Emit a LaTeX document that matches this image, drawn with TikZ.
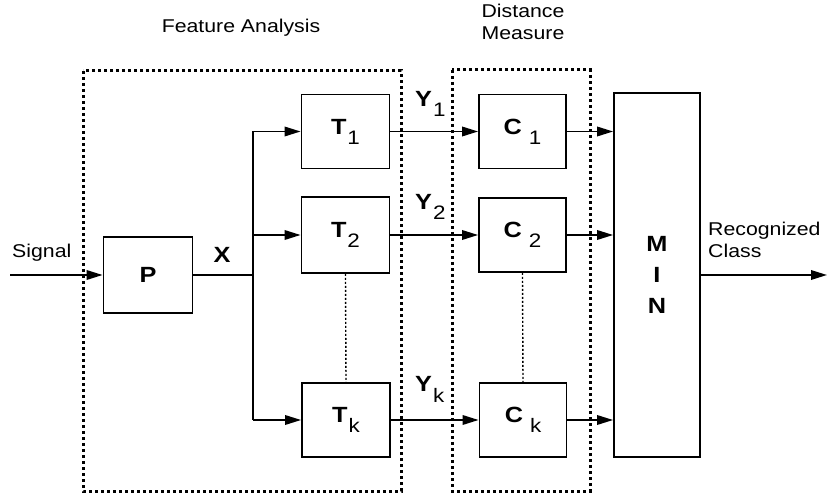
\documentclass[tikz,border=0pt]{standalone}
\usepackage{fontspec}
\setmainfont[FakeStretch=1.15]{Liberation Sans}
\usetikzlibrary{arrows.meta}
\newcommand\subl[3]{#1\kern#3\raisebox{-10pt}{\fontsize{19.5}{22}\selectfont\mdseries #2}}
\begin{document}
\begin{tikzpicture}[x=1pt,y=-1pt,
  blk/.style={draw, line width=1.8pt, minimum width=88pt, minimum height=74pt, inner sep=0pt,
    font=\fontsize{22}{24}\selectfont\bfseries},
  lab/.style={inner sep=0pt, font=\fontsize{18.5}{22}\selectfont},
  blab/.style={inner sep=0pt, font=\fontsize{22}{24}\selectfont\bfseries},
  frame/.style={line width=3pt, dash pattern=on 3pt off 3pt},
  ln/.style={line width=1.8pt},
  arr/.style={line width=1.8pt, -{Triangle[length=16pt,width=9.5pt]}},
  dotln/.style={line width=1.4pt, dash pattern=on 2pt off 2pt}]
\useasboundingbox (0,0) rectangle (828,494);
% frames
\draw[frame] (83,71) rectangle (401,491);
\draw[frame] (452,70) rectangle (590,491);
\node[lab, anchor=base] (fa) at (241,33) {Feature Analysis};
\node[lab, align=center, anchor=north] (dm) at (523,4) {Distance\\Measure};
% blocks
\node[blk, minimum width=89pt, minimum height=76pt] (P) at (148,275) {P};
\node[blk] (T1) at (345.5,131.5) {\subl{T}{1}{1pt}};
\node[blk, minimum height=76pt] (T2) at (345.5,235) {\subl{T}{2}{1pt}};
\node[blk] (Tk) at (346,420) {\subl{T}{k}{1pt}};
\node[blk, minimum width=87pt] (C1) at (522.5,131.5) {\subl{C}{1}{7pt}};
\node[blk, minimum width=87pt] (C2) at (522.5,235) {\subl{C}{2}{7pt}};
\node[blk, minimum width=87pt] (Ck) at (523,420) {\subl{C}{k}{7pt}};
\node[blk, minimum width=86pt, minimum height=364pt, align=center,
  font=\fontsize{22}{31}\selectfont\bfseries] (MIN) at (657,275) {M\\I\\N};
% labels
\node[lab, anchor=base west] (sig) at (12,258) {Signal};
\node[blab, anchor=base] (X) at (222,263) {X};
\node[blab, anchor=base west] (Y1) at (415,107) {\subl{Y}{1}{1pt}};
\node[blab, anchor=base west] (Y2) at (415,210) {\subl{Y}{2}{1pt}};
\node[blab, anchor=base west] (Yk) at (415,392) {\subl{Y}{k}{1pt}};
\node[lab, align=left, anchor=north west] (rc) at (708,222) {Recognized\\Class};
% connectors
\coordinate (in) at (10,275);
\coordinate (j) at (253,275);
\coordinate (out) at (827,275);
\draw[arr] (in) -- (P.west);
\draw[ln] (P.east) -- (j);
\draw[ln] (j |- T1.west) -- (j |- Tk.west);
\draw[arr] (j |- T1.west) -- (T1.west);
\draw[arr] (j |- T2.west) -- (T2.west);
\draw[arr] (j |- Tk.west) -- (Tk.west);
\draw[arr] (T1.east) -- (C1.west);
\draw[arr] (T2.east) -- (C2.west);
\draw[arr] (Tk.east) -- (Ck.west);
\draw[arr] (C1.east) -- (C1.east -| MIN.west);
\draw[arr] (C2.east) -- (C2.east -| MIN.west);
\draw[arr] (Ck.east) -- (Ck.east -| MIN.west);
\draw[arr] (MIN.east) -- (out);
\draw[dotln] (T2.south) -- (Tk.north);
\draw[dotln] (C2.south) -- (Ck.north);
\end{tikzpicture}
\end{document}
